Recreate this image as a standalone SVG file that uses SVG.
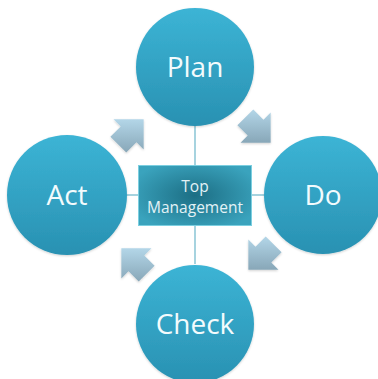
<svg xmlns="http://www.w3.org/2000/svg" width="378" height="379" viewBox="0 0 378 379">
  <defs>
    <linearGradient id="ballFill" x1="0" y1="0" x2="0" y2="1">
      <stop offset="0" stop-color="#3cb4d5"/>
      <stop offset="1" stop-color="#2991b2"/>
    </linearGradient>
    <radialGradient id="boxFill" cx="0.5" cy="0.5" r="0.6">
      <stop offset="0" stop-color="#1c6e84"/>
      <stop offset="1" stop-color="#3aa3bd"/>
    </radialGradient>
    <linearGradient id="arrowFill" x1="0" y1="0" x2="0" y2="1">
      <stop offset="0" stop-color="#b3d6e8"/>
      <stop offset="1" stop-color="#88a7b8"/>
    </linearGradient>
    <filter id="soft" x="-20%" y="-20%" width="140%" height="140%">
      <feDropShadow dx="0" dy="1" stdDeviation="1" flood-color="#000" flood-opacity="0.18"/>
    </filter>
  </defs>
  <style>
    .ball { fill: url(#ballFill); filter: url(#soft); }
    .ballText { font-family: "Open Sans", "Liberation Sans", sans-serif; font-size: 28px; fill: #f3fbfd; text-anchor: middle; }
    .box { fill: url(#boxFill); stroke: #7ccfe0; stroke-width: 1; }
    .boxText { font-family: "Open Sans", "Liberation Sans", sans-serif; font-size: 15.5px; fill: #e3f2f6; text-anchor: middle; }
    .link { stroke: #6cb6ca; stroke-width: 1.2; fill: none; }
    .arrow { fill: url(#arrowFill); filter: url(#soft); }
  </style>

  <rect width="378" height="379" fill="#ffffff"/>

  <!-- spokes from the hub to each stage -->
  <g id="connectors">
    <line class="link" x1="195" y1="126" x2="195" y2="165"/>
    <line class="link" x1="195" y1="225" x2="195" y2="264"/>
    <line class="link" x1="127" y1="195" x2="138" y2="195"/>
    <line class="link" x1="252" y1="195" x2="264" y2="195"/>
  </g>

  <!-- cycle arrows between stages, each scaled about its own centre -->
  <g id="cycle-arrows">
    <polygon class="arrow" transform="translate(131 132) scale(1.12) translate(-131 -131)" points="112.6,135.2 121.8,126.1 115.4,119.7 142.3,119.7 142.3,146.6 135.9,140.2 126.8,149.4"/>
    <polygon class="arrow" transform="translate(258 130) scale(1.12) translate(-259 -131)" points="254.8,112.6 263.9,121.8 270.3,115.4 270.3,142.3 243.4,142.3 249.8,135.9 240.6,126.8"/>
    <polygon class="arrow" transform="translate(261 257) scale(1.12) translate(-259 -259)" points="277.4,254.8 268.2,263.9 274.6,270.3 247.7,270.3 247.7,243.4 254.1,249.8 263.2,240.6"/>
    <polygon class="arrow" transform="translate(134 261) scale(1.12) translate(-131 -259)" points="135.2,277.4 126.1,268.2 119.7,274.6 119.7,247.7 146.6,247.7 140.2,254.1 149.4,263.2"/>
  </g>

  <g id="plan">
    <circle class="ball" cx="195" cy="67" r="59"/>
    <text class="ballText" x="195" y="77">Plan</text>
  </g>

  <g id="act">
    <circle class="ball" cx="67" cy="195" r="60"/>
    <text class="ballText" x="67" y="205">Act</text>
  </g>

  <g id="do">
    <circle class="ball" cx="323" cy="195" r="59"/>
    <text class="ballText" x="323" y="205">Do</text>
  </g>

  <g id="check">
    <circle class="ball" cx="195" cy="324" r="59"/>
    <text class="ballText" x="195" y="334">Check</text>
  </g>

  <g id="top-management">
    <rect class="box" x="138.5" y="165.5" width="113" height="60"/>
    <text class="boxText" x="195" y="192">Top</text>
    <text class="boxText" x="195" y="213">Management</text>
  </g>
</svg>
